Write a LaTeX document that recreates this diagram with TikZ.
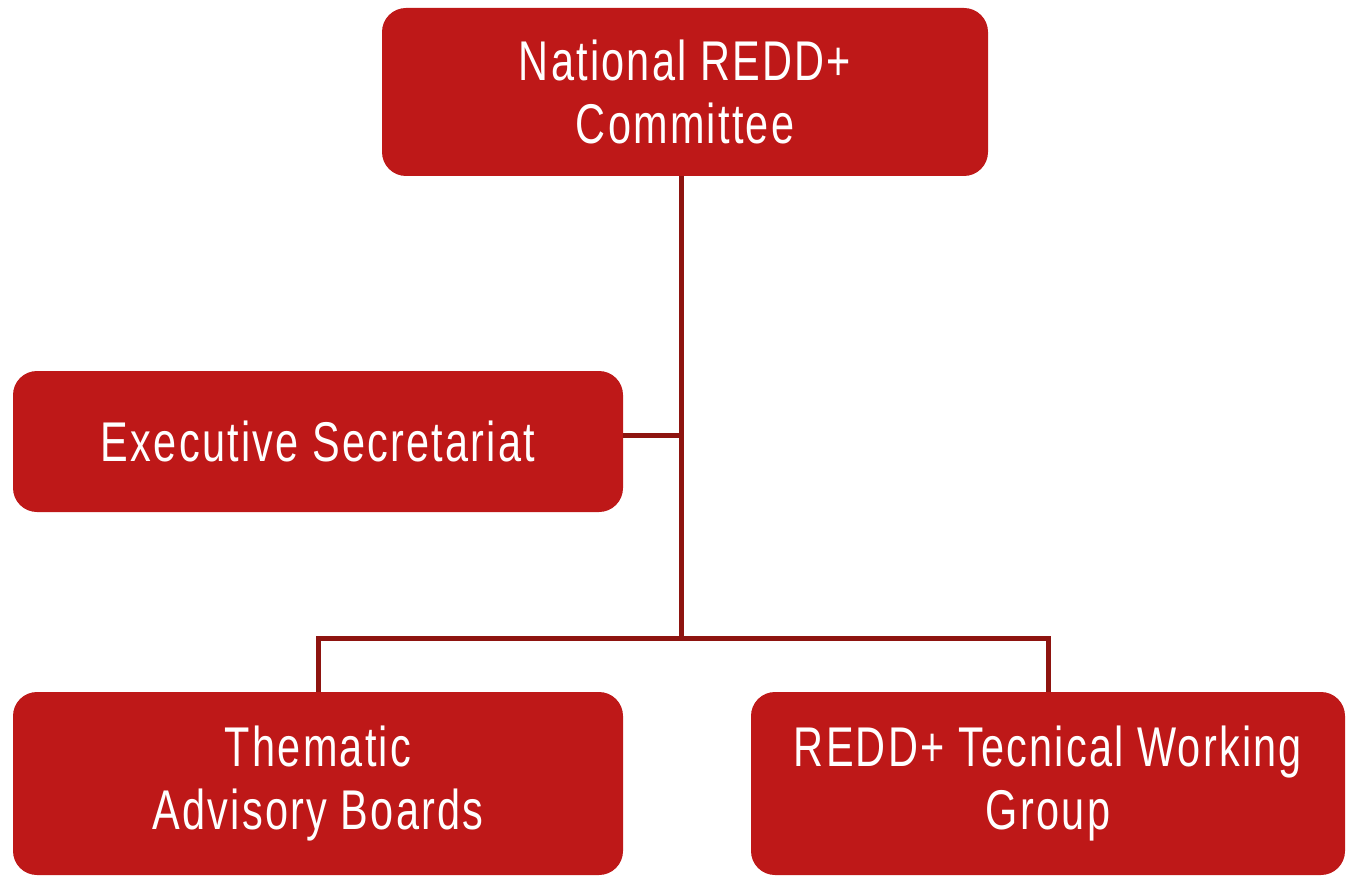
\documentclass[tikz,border=0pt]{standalone}
\usepackage{fontspec}
\setmainfont{Liberation Sans}[FakeStretch=0.74,LetterSpace=4]
\definecolor{boxred}{HTML}{BE1818}
\definecolor{linkred}{HTML}{8E1410}
\begin{document}
\begin{tikzpicture}[x=1pt,y=-1pt,line join=miter,
	box/.style={fill=boxred,rounded corners=24pt,text=white,align=center,inner sep=0pt,
		font=\fontsize{56}{63}\selectfont},
	link/.style={draw=linkred,line width=5pt}]
	\useasboundingbox (0,0) rectangle (1346,877);
	% the four bodies
	\node[box,minimum width=606pt,minimum height=168pt] (ncom) at (685,92) {National REDD+\\Committee};
	\node[box,minimum width=610pt,minimum height=141pt] (exec) at (318,441.5) {Executive Secretariat};
	\node[box,minimum width=610pt,minimum height=183pt] (theme) at (318,783.5) {Thematic\\Advisory Boards};
	\node[box,minimum width=594pt,minimum height=183pt] (wgroup) at (1048,783.5) {REDD+ Tecnical Working\\Group};
	% trunk, side branch and bus
	\coordinate (jn) at (681,435);
	\coordinate (bus) at (681,638);
	\draw[link] (ncom.south -| bus) -- (bus);
	\draw[link] (exec.east |- jn) -- (jn);
	\draw[link] (theme.north) |- (bus) -| (wgroup.north);
\end{tikzpicture}
\end{document}
